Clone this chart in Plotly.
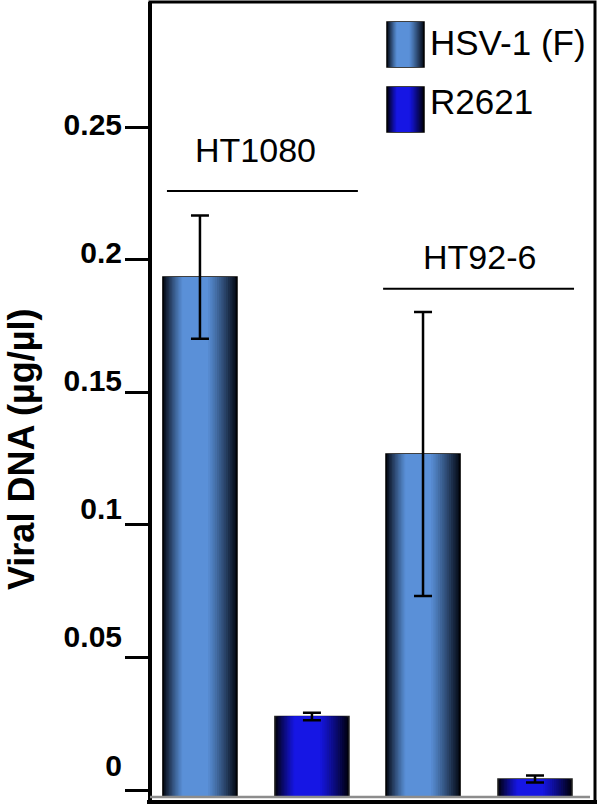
import plotly.graph_objects as go

# ---------------- data ----------------
categories = ["HT1080", "HT92-6"]
series_names = ["HSV-1 (F)", "R2621"]
hsv_values = [0.194, 0.128]
hsv_errors = [0.023, 0.053]
r2621_values = [0.030, 0.0067]
r2621_errors = [0.0014, 0.0013]
tick_values = [0, 0.05, 0.1, 0.15, 0.2, 0.25]
tick_labels = ["0", "0.05", "0.1", "0.15", "0.2", "0.25"]
y_title = "Viral DNA (µg/µl)"

# ---------------- style ----------------
FONT = "Liberation Sans, Arial, sans-serif"
W, H = 600, 805
ML, MR, MT, MB = 150, 5, 2, 3
PW, PH = W - ML - MR, H - MT - MB

light_dark = [((90, 144, 216), (6, 12, 24)), ((22, 22, 228), (0, 0, 16))]
outline = ["#000000", "#222222"]
series_offsets = [-0.251, 0.251]
bar_width = 0.332
N_LAYERS = 20
SKEW = 0.1  # light centre sits a little left of the bar centre


def shade(f, light, dark):
    if f <= 0.35:
        s = 1.0
    else:
        s = 1 - ((f - 0.35) / 0.65) ** 1.15
    c = [round(d + (l - d) * s) for l, d in zip(light, dark)]
    return "rgb(%d,%d,%d)" % tuple(c)


def px_x(px):
    return (px - ML) / PW


def px_y(py):
    return (H - MB - py) / PH


fig = go.Figure()

series_values = [hsv_values, r2621_values]
series_errors = [hsv_errors, r2621_errors]

fracs = [1 - k / N_LAYERS for k in range(N_LAYERS)]
fracs = [f for f in fracs if f >= 0.33]

for si in range(2):
    light, dark = light_dark[si]
    for li, f in enumerate(fracs):
        w = bar_width * f
        centre = series_offsets[si] - (1 - f) * SKEW * bar_width
        fig.add_trace(go.Bar(
            x=categories,
            y=series_values[si],
            width=w,
            offset=centre - w / 2,
            marker=dict(color=shade(f, light, dark),
                        line=dict(color=outline[si], width=1.5 if li == 0 else 0)),
            name=series_names[si],
            showlegend=False,
            hoverinfo="skip",
        ))
    # error bars, centred on the bar
    w = bar_width * 0.02
    fig.add_trace(go.Bar(
        x=categories,
        y=series_values[si],
        width=w,
        offset=series_offsets[si] - w / 2,
        marker=dict(color="rgba(0,0,0,0)", line=dict(width=0)),
        error_y=dict(type="data", array=series_errors[si], visible=True,
                     color="black", thickness=2.5, width=9),
        name=series_names[si],
        showlegend=False,
        hoverinfo="skip",
    ))

# helper traces so the tick-mark axis and the label axis are drawn
for ax in ["y2", "y3"]:
    fig.add_trace(go.Scatter(x=[categories[0]], y=[0], yaxis=ax, mode="markers",
                             marker=dict(opacity=0), showlegend=False, hoverinfo="skip"))

# ---------------- axes ----------------
data_range = [(797 - (H - MB)) / 2680, (797 - MT) / 2680]
tick_range = [(790 - (H - MB)) / 2652, (790 - MT) / 2652]
label_range = [(765 - (H - MB)) / 2564, (765 - MT) / 2564]

fig.update_layout(
    width=W, height=H,
    margin=dict(l=ML, r=MR, t=MT, b=MB, pad=0, autoexpand=False),
    paper_bgcolor="white", plot_bgcolor="white",
    barmode="overlay",
    showlegend=False,
    xaxis=dict(type="category", range=[-0.475, 1.52], showticklabels=False,
               ticks="", showgrid=False, zeroline=False, showline=False, automargin=False),
    yaxis=dict(range=data_range, showticklabels=False, ticks="", showgrid=False,
               zeroline=False, showline=False, automargin=False),
    yaxis2=dict(overlaying="y", side="left", range=tick_range, tickvals=tick_values,
                ticks="outside", ticklen=24, tickwidth=3, tickcolor="black",
                showticklabels=False, showgrid=False, zeroline=False, showline=False,
                automargin=False),
    yaxis3=dict(overlaying="y", side="left", range=label_range, tickvals=tick_values,
                ticktext=tick_labels, ticks="", ticklabelstandoff=27,
                tickfont=dict(family=FONT, size=30, color="black", weight="bold"),
                showgrid=False, zeroline=False, showline=False, automargin=False),
)

shapes = []
# frame
shapes.append(dict(type="rect", xref="paper", yref="paper", x0=0, x1=1, y0=0, y1=1,
                   line=dict(color="black", width=3), layer="above"))
shapes.append(dict(type="line", xref="paper", yref="paper", x0=0, x1=0, y0=0, y1=1,
                   line=dict(color="black", width=4), layer="above"))
shapes.append(dict(type="line", xref="paper", yref="paper", x0=px_x(147), x1=px_x(597),
                   y0=px_y(802), y1=px_y(802), line=dict(color="black", width=4), layer="above"))
# grey baseline
shapes.append(dict(type="line", xref="paper", yref="y", x0=0, x1=px_x(590), y0=0, y1=0,
                   line=dict(color="#8c8c8c", width=2.5), layer="above"))

# group brackets
brackets = [(-0.399, 0.457, 0.2261), (0.57, 1.426, 0.1896)]
for x0, x1, yv in brackets:
    shapes.append(dict(type="line", xref="x", yref="y", x0=x0, x1=x1, y0=yv, y1=yv,
                       line=dict(color="black", width=2)))

# legend swatches
swatch_y = [(22, 67), (87, 132)]
for si in range(2):
    light, dark = light_dark[si]
    top, bot = swatch_y[si]
    left, right = 387, 424
    cx = (left + right) / 2
    hw = (right - left) / 2
    for li, f in enumerate(fracs):
        c = cx - (1 - f) * SKEW * (right - left)
        shapes.append(dict(type="rect", xref="paper", yref="paper",
                           x0=px_x(c - hw * f), x1=px_x(c + hw * f),
                           y0=px_y(bot), y1=px_y(top),
                           fillcolor=shade(f, light, dark),
                           line=dict(color="black", width=1.5 if li == 0 else 0)))
fig.update_layout(shapes=shapes)

annotations = []
label_pos = [(0, 0.2414), (1, 0.2015)]
for (ci, yv) in label_pos:
    annotations.append(dict(x=categories[ci], y=yv, xref="x", yref="y", text=categories[ci],
                            showarrow=False, xanchor="center", yanchor="middle",
                            font=dict(family=FONT, size=34, color="black")))
legend_text_y = [42, 101]
for si in range(2):
    annotations.append(dict(x=px_x(428), y=px_y(legend_text_y[si]), xref="paper", yref="paper",
                            text=series_names[si], showarrow=False, xanchor="left",
                            yanchor="middle", font=dict(family=FONT, size=35, color="black")))
annotations.append(dict(x=px_x(21), y=px_y(449), xref="paper", yref="paper", text=y_title,
                        textangle=-90, showarrow=False, xanchor="center", yanchor="middle",
                        font=dict(family=FONT, size=36, color="black", weight="bold")))
fig.update_layout(annotations=annotations)

fig.write_html("out.html", config={"displayModeBar": False},
               post_script="document.body.style.margin='0px';document.body.style.overflow='hidden';")
